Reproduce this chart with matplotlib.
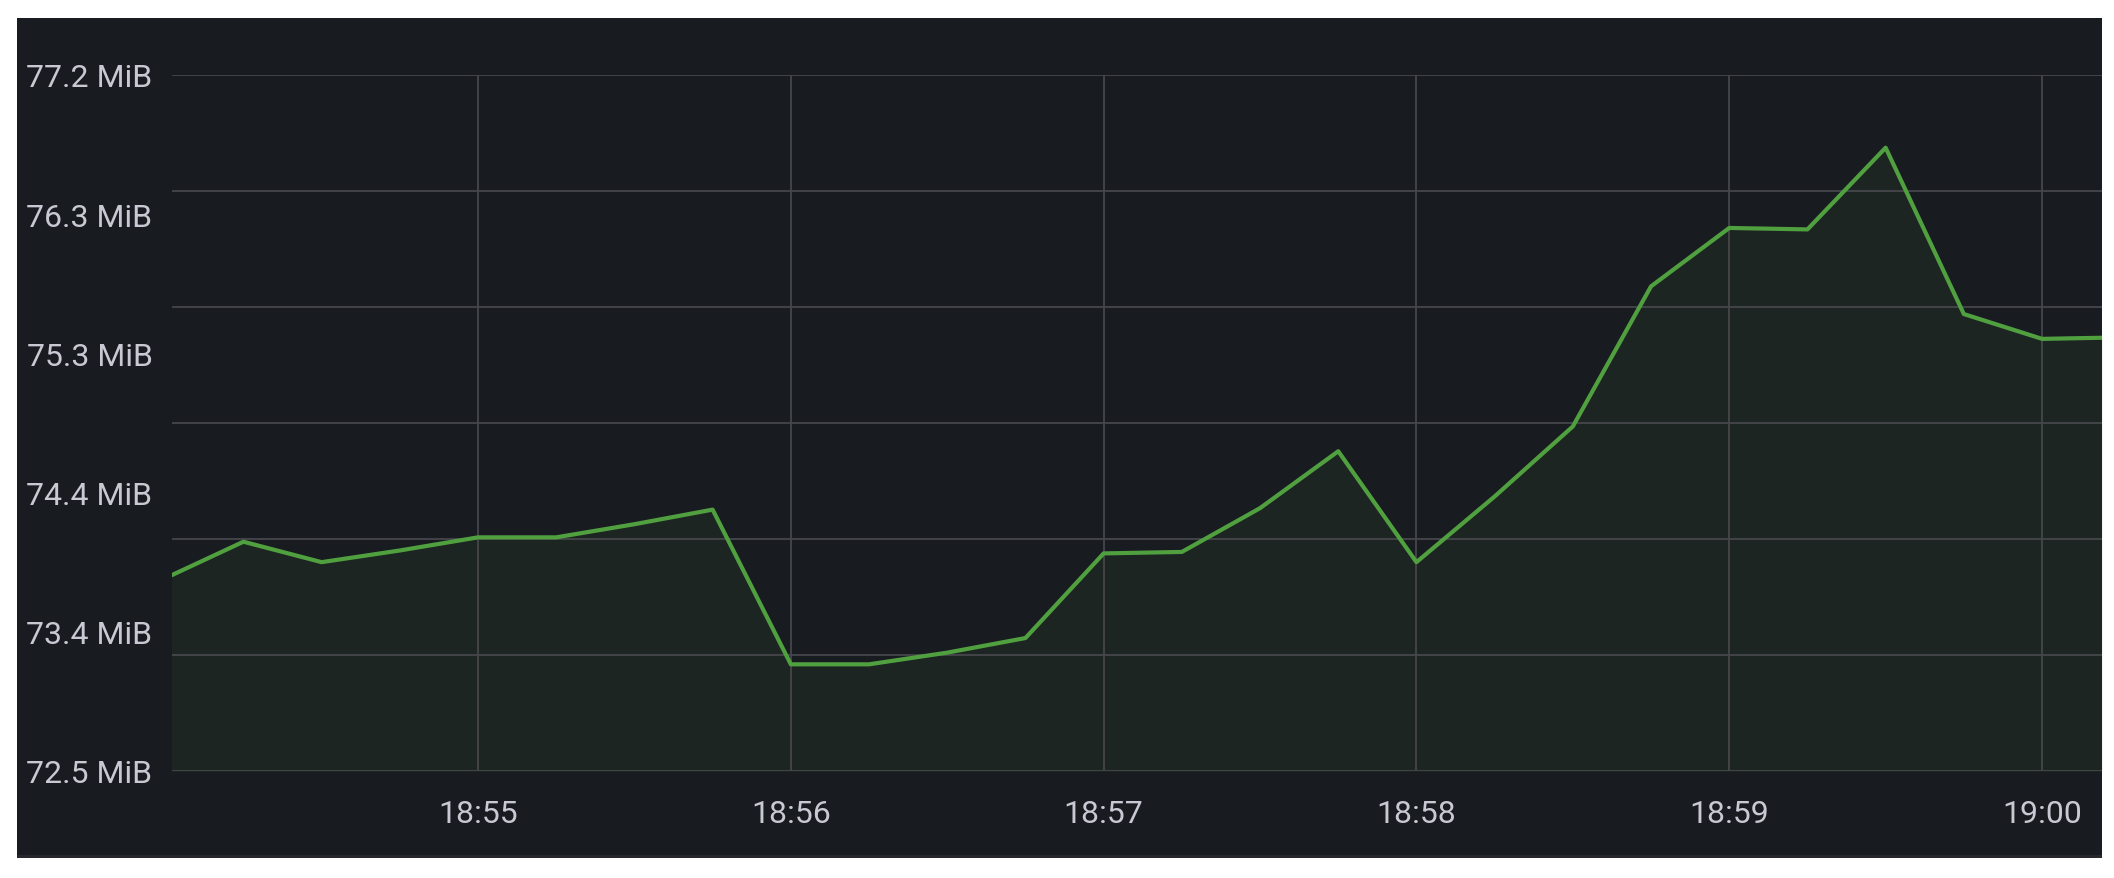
import matplotlib
matplotlib.use("Agg")
from matplotlib import pyplot as plt
from matplotlib.patches import Rectangle
import matplotlib.dates as mdates
import numpy as np
import pandas as pd

# memory samples, every 15 s
times = ["18:54:00", "18:54:15", "18:54:30", "18:54:45",
         "18:55:00", "18:55:15", "18:55:30", "18:55:45",
         "18:56:00", "18:56:15", "18:56:30", "18:56:45",
         "18:57:00", "18:57:15", "18:57:30", "18:57:45",
         "18:58:00", "18:58:15", "18:58:30", "18:58:45",
         "18:59:00", "18:59:15", "18:59:30", "18:59:45",
         "19:00:00", "19:00:15"]
mem_mib = [73.80, 74.05, 73.91, 73.99,
           74.08, 74.08, 74.17, 74.27,
           73.21, 73.21, 73.29, 73.39,
           73.97, 73.98, 74.28, 74.67,
           73.91, 74.36, 74.84, 75.80,
           76.20, 76.19, 76.75, 75.61,
           75.44, 75.45]
ymin, ymax = 72.479, 77.248
xstart, xend = "18:54:01.3", "19:00:11.5"

W, H = 2114, 879
panel_bg = "#181b1f"
grid_col = "#45474c"
text_col = "#c9c9d4"
green = "#50a040"

t = pd.to_datetime(["2024-01-01 " + s for s in times])
x0 = pd.Timestamp("2024-01-01 " + xstart)
x1 = pd.Timestamp("2024-01-01 " + xend)

fig = plt.figure(figsize=(W / 100, H / 100), dpi=100, facecolor="white")
fig.patches.append(Rectangle((17 / W, 1 - 859 / H), (2102 - 17) / W, (859 - 19) / H,
                             transform=fig.transFigure, facecolor=panel_bg,
                             edgecolor="none", zorder=-10))
fig.patches.append(Rectangle((17 / W, 1 - 859 / H), (2102 - 17) / W, 3 / H,
                             transform=fig.transFigure, facecolor="#26282d",
                             edgecolor="none", zorder=-9))

ax = fig.add_axes([172 / W, 1 - 772 / H, (2102 - 172) / W, (772 - 76) / H])
ax.set_zorder(1)
ax.set_facecolor("none")

ax.fill_between(t, mem_mib, ymin - 1, color=green, alpha=0.08, linewidth=0, zorder=1)
ax.plot(t, mem_mib, color=green, linewidth=3.0, zorder=3)

ax.set_xlim(x0, x1)
ax.set_ylim(ymin, ymax)

# labels on 6 positions, grid lines on 7 (as in the source panel)
ax.set_yticks(np.linspace(ymin, ymax, 6))
ax.set_yticklabels(["%.1f MiB" % v for v in np.linspace(ymin, ymax, 6)])
for v in np.linspace(ymin, ymax, 7):
    ax.axhline(v, color=grid_col, linewidth=1.3, zorder=2)

ax.xaxis.set_major_locator(mdates.MinuteLocator())
ax.xaxis.set_major_formatter(mdates.DateFormatter("%H:%M"))
ax.grid(axis="x", color=grid_col, linewidth=1.3, zorder=2)
ax.set_axisbelow(False)

for s in ax.spines.values():
    s.set_visible(False)
ax.tick_params(axis="both", length=0, colors=text_col, labelsize=23)
ax.tick_params(axis="y", pad=14)
ax.tick_params(axis="x", pad=20)
for lab in ax.get_xticklabels() + ax.get_yticklabels():
    lab.set_fontfamily("Roboto")

fig.savefig("out.png", dpi=100, facecolor="white")
